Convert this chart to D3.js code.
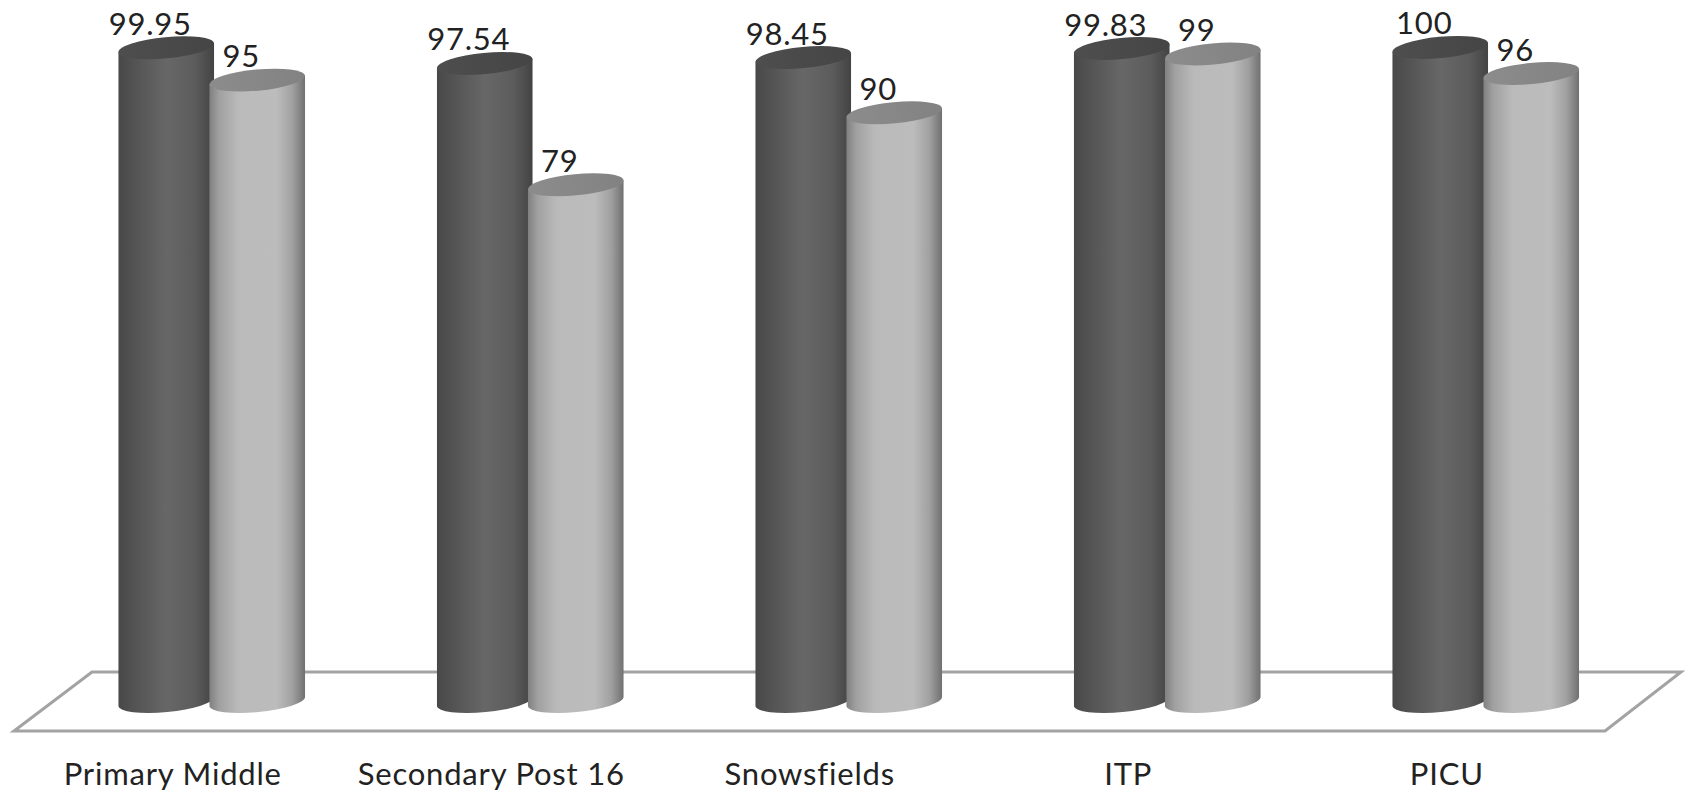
<!DOCTYPE html>
<html>
<head>
<meta charset="utf-8">
<script src="https://cdn.jsdelivr.net/npm/d3@7"></script>
<style>
  html, body { margin: 0; padding: 0; background: #fff; }
  svg { display: block; }
  text { font-family: Lato, "Open Sans", sans-serif; fill: #222; }
</style>
</head>
<body>
<div id="chart"></div>
<script>
const categories = ["Primary Middle", "Secondary Post 16", "Snowsfields", "ITP", "PICU"];
const seriesNames = ["a", "b"];
const seriesA = [99.95, 97.54, 98.45, 99.83, 100];
const seriesB = [95, 79, 90, 99, 96];

const width = 1686, height = 795;
const rx = 48, ry = 10.6, tilt = -5.4;
const rad = tilt * Math.PI / 180;
const ex = rx * Math.cos(rad), ey = rx * Math.sin(rad);

const svg = d3.select("#chart").append("svg")
    .attr("width", width)
    .attr("height", height);

const defs = svg.append("defs");
function gradient(id, stops) {
    const g = defs.append("linearGradient").attr("id", id);
    stops.forEach(s => g.append("stop").attr("offset", s[0]).attr("stop-color", s[1]));
}
gradient("sideA", [[0, "#484848"], [0.15, "#525252"], [0.5, "#676767"], [0.8, "#5c5c5c"], [1, "#434343"]]);
gradient("sideB", [[0, "#808080"], [0.1, "#a0a0a0"], [0.3, "#bababa"], [0.7, "#bcbcbc"], [0.87, "#a0a0a0"], [1, "#707070"]]);
gradient("topA", [[0, "#4e4e4e"], [1, "#454545"]]);
gradient("topB", [[0, "#8c8c8c"], [1, "#828282"]]);

const x0 = d3.scaleBand().domain(categories).range([52.5, 1645]);
const x1 = d3.scaleBand().domain(seriesNames).range([-93.5, 88.5]);
const y = d3.scaleLinear().domain([0, 100]).range([701.5, 47.4]);

// floor of the 3d plot
const floor = [[14, 731], [92, 672], [1681, 672], [1605, 731]];
svg.append("path")
    .attr("d", d3.line()(floor) + "Z")
    .attr("fill", "none")
    .attr("stroke", "#a3a3a3")
    .attr("stroke-width", 3);

function cylinder(cx, v, s) {
    const yt = y(v), yb = y(0);
    const g = svg.append("g");
    g.append("path")
        .attr("d", `M${cx - ex},${yt - ey}L${cx - ex},${yb - ey}` +
            `A${rx},${ry} ${tilt} 0 0 ${cx + ex},${yb + ey}` +
            `L${cx + ex},${yt + ey}Z`)
        .attr("fill", `url(#side${s})`);
    g.append("ellipse")
        .attr("rx", rx)
        .attr("ry", ry)
        .attr("transform", `translate(${cx},${yt}) rotate(${tilt})`)
        .attr("fill", `url(#top${s})`);
}

categories.forEach((c, i) => {
    const mid = x0(c) + x0.bandwidth() / 2;
    cylinder(mid + x1("a") + rx, seriesA[i], "A");
    cylinder(mid + x1("b") + rx, seriesB[i], "B");
});

categories.forEach((c, i) => {
    const mid = x0(c) + x0.bandwidth() / 2;
    [[seriesA[i], "a"], [seriesB[i], "b"]].forEach(d => {
        svg.append("text")
            .attr("x", mid + x1(d[1]) + rx - 16)
            .attr("y", y(d[0]) - 13)
            .attr("text-anchor", "middle")
            .attr("font-size", 31)
            .attr("letter-spacing", 0.8)
            .text(d[0]);
    });
    svg.append("text")
        .attr("x", mid - 39)
        .attr("y", 785)
        .attr("text-anchor", "middle")
        .attr("font-size", 31)
        .attr("letter-spacing", 0.8)
        .text(c);
});
</script>
</body>
</html>
